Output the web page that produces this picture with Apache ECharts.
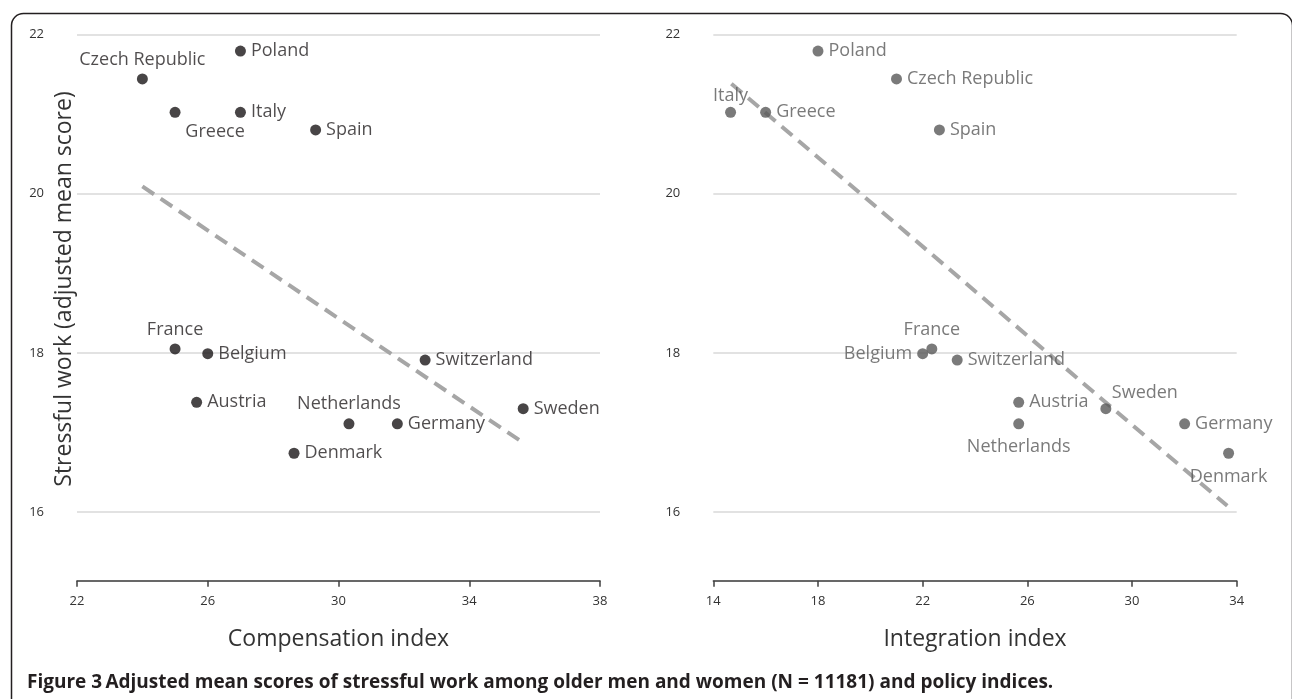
<!DOCTYPE html>
<html>
<head>
<meta charset="utf-8">
<script src="https://cdn.jsdelivr.net/npm/echarts@6/dist/echarts.min.js"></script>
<style>
html,body{margin:0;padding:0;background:#fff;}
#chart{width:1292px;height:699px;}
</style>
</head>
<body>
<div id="chart"></div>
<script>
// ---- data ----
const countries = ['Poland','Czech Republic','Greece','Italy','Spain','France','Belgium','Austria','Denmark','Netherlands','Germany','Switzerland','Sweden'];
const stressful = [21.79, 21.44, 21.02, 21.02, 20.80, 18.05, 17.99, 17.38, 16.74, 17.11, 17.11, 17.91, 17.30];
const compensation = [27.0, 24.0, 25.0, 27.0, 29.3, 25.0, 26.0, 25.66, 28.64, 30.32, 31.8, 32.65, 35.65];
const integration = [18.0, 21.0, 16.0, 14.66, 22.64, 22.35, 22.0, 25.67, 33.69, 25.67, 32.01, 23.32, 29.0];
const compTrendX = [24.0, 35.66];
const compTrendY = [20.09, 16.87];
const integTrendX = [14.69, 33.64];
const integTrendY = [21.38, 16.08];
const compTicks = [22, 26, 30, 34, 38];
const integTicks = [14, 18, 22, 26, 30, 34];
const yTicks = [16, 18, 20, 22];

// ---- label placement (style only) ----
const leftLabelPos = {
  'Czech Republic': {position: 'top'},
  'Greece': {position: 'bottom', offset: [40, 0]},
  'France': {position: 'top'},
  'Netherlands': {position: 'top'}
};
const rightLabelPos = {
  'Italy': {position: 'top', distance: 2},
  'France': {position: 'top'},
  'Belgium': {position: 'left'},
  'Netherlands': {position: 'bottom', offset: [0, 4]},
  'Sweden': {position: 'top', offset: [39, 4]},
  'Denmark': {position: 'bottom', offset: [0, 4]}
};

const FONT = 'Open Sans';
function buildPoints(xs, pos) {
  return countries.map((c, i) => {
    const p = pos[c] || {position: 'right'};
    return {
      name: c,
      value: [xs[i], stressful[i]],
      label: Object.assign({show: true, formatter: c}, p)
    };
  });
}

const chart = echarts.init(document.getElementById('chart'), null, {renderer: 'canvas'});

const yAxisBase = {
  type: 'value',
  min: 15.14,
  max: 22,
  minInterval: 2,
  maxInterval: 2,
  axisLine: {show: false},
  axisTick: {show: false},
  axisLabel: {showMinLabel: false, color: '#333', fontSize: 13, fontFamily: FONT, margin: 33,
    formatter: v => (yTicks.indexOf(Math.round(v)) >= 0 && Math.abs(v - Math.round(v)) < 1e-6) ? String(Math.round(v)) : ''},
  splitLine: {show: true, lineStyle: {color: '#d9d9d9', width: 1.5}}
};
function xAxisBase(ticks, name) {
  return {
    type: 'value',
    min: ticks[0],
    max: ticks[ticks.length - 1],
    interval: ticks[1] - ticks[0],
    name: name,
    nameLocation: 'middle',
    nameGap: 47,
    nameTextStyle: {fontSize: 23, color: '#333', fontFamily: FONT},
    axisLine: {show: true, onZero: false, lineStyle: {color: '#404040', width: 1.5}},
    axisTick: {show: true, length: 6, lineStyle: {color: '#404040', width: 1.5}},
    axisLabel: {color: '#333', fontSize: 13, fontFamily: FONT, margin: 14},
    splitLine: {show: false}
  };
}

const option = {
  backgroundColor: '#fff',
  animation: false,
  grid: [
    {left: 77, top: 34.3, width: 523, height: 546.4},
    {left: 713.3, top: 34.3, width: 523.4, height: 546.4}
  ],
  xAxis: [
    Object.assign(xAxisBase(compTicks, 'Compensation index'), {gridIndex: 0}),
    Object.assign(xAxisBase(integTicks, 'Integration index'), {gridIndex: 1})
  ],
  yAxis: [
    Object.assign({}, yAxisBase, {gridIndex: 0}),
    Object.assign({}, yAxisBase, {gridIndex: 1})
  ],
  series: [
    {
      type: 'line', xAxisIndex: 0, yAxisIndex: 0, symbol: 'none', silent: true,
      data: compTrendX.map((x, i) => [x, compTrendY[i]]),
      lineStyle: {color: '#a6a6a6', width: 4, type: [14, 8]}, z: 1
    },
    {
      type: 'line', xAxisIndex: 1, yAxisIndex: 1, symbol: 'none', silent: true,
      data: integTrendX.map((x, i) => [x, integTrendY[i]]),
      lineStyle: {color: '#a6a6a6', width: 4, type: [14, 8]}, z: 1
    },
    {
      type: 'scatter', xAxisIndex: 0, yAxisIndex: 0, symbolSize: 11,
      itemStyle: {color: '#1a1718'},
      label: {color: '#231f20', fontSize: 18, fontFamily: FONT, distance: 5},
      data: buildPoints(compensation, leftLabelPos), z: 3
    },
    {
      type: 'scatter', xAxisIndex: 1, yAxisIndex: 1, symbolSize: 11,
      itemStyle: {color: '#595959'},
      label: {color: '#595959', fontSize: 18, fontFamily: FONT, distance: 5},
      data: buildPoints(integration, rightLabelPos), z: 3
    }
  ],
  graphic: [
    {
      type: 'rect', left: 9, top: 11, silent: true,
      shape: {x: 0, y: 0, width: 1281, height: 720, r: 12},
      style: {fill: 'none', stroke: '#231f20', lineWidth: 1.5}
    },
    {
      type: 'text', x: 64, y: 289, rotation: Math.PI / 2, silent: true,
      style: {text: 'Stressful work (adjusted mean score)', fontSize: 23, fontFamily: FONT, fill: '#333',
        align: 'center', verticalAlign: 'middle'}
    },
    {
      type: 'text', x: 27, y: 683, silent: true,
      style: {
        text: '{b|Figure 3} {t|Adjusted mean scores of stressful work among older men and women (N = 11181) and policy indices.}',
        verticalAlign: 'middle',
        rich: {
          b: {fontSize: 19, fontWeight: 'bold', fontFamily: FONT, fill: '#231f20'},
          t: {fontSize: 19, fontWeight: 'bold', fontFamily: FONT, fill: '#231f20'}
        }
      }
    }
  ]
};
chart.setOption(option);
</script>
</body>
</html>
